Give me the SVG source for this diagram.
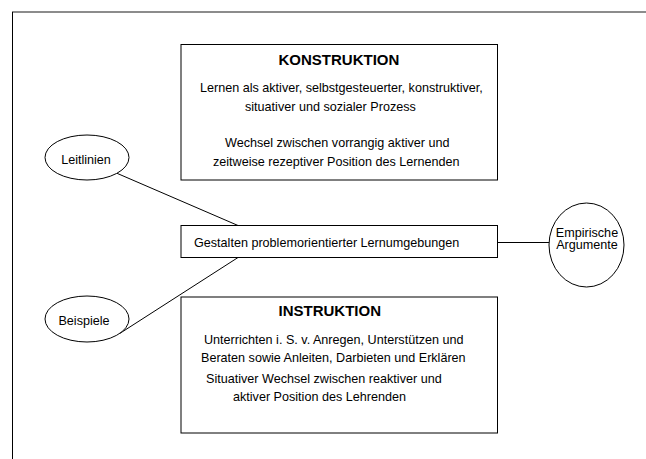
<svg xmlns="http://www.w3.org/2000/svg" width="646" height="459" viewBox="0 0 646 459">
  <style>
    .box { fill: #ffffff; stroke: #000000; stroke-width: 1; }
    .oval { fill: #ffffff; stroke: #000000; stroke-width: 1; }
    .link { stroke: #000000; stroke-width: 1; fill: none; }
    text { font-family: "Liberation Sans", Arial, sans-serif; font-size: 12.6px; fill: #000000; }
    .title { font-weight: bold; font-size: 15px; }
    .mid { text-anchor: middle; }
  </style>
  <rect width="646" height="459" fill="#ffffff"/>
  <!-- page frame -->
  <line x1="12" y1="12" x2="646" y2="12" stroke="#666666" stroke-width="1.5"/>
  <line x1="12.5" y1="12" x2="12.5" y2="459" stroke="#000000" stroke-width="1"/>

  <g id="connectors">
    <line class="link" x1="117" y1="173.3" x2="238" y2="225.5"/>
    <line class="link" x1="238" y1="257.5" x2="120" y2="333.3"/>
    <line class="link" x1="497.5" y1="242.5" x2="549" y2="242.5"/>
  </g>

  <g id="konstruktion">
    <rect class="box" x="181" y="44.5" width="316.5" height="135.5"/>
    <text class="title" x="278.5" y="64.5">KONSTRUKTION</text>
    <text x="200" y="91.5">Lernen als aktiver, selbstgesteuerter, konstruktiver,</text>
    <text x="245" y="110.5">situativer und sozialer Prozess</text>
    <text x="225" y="146.5">Wechsel zwischen vorrangig aktiver und</text>
    <text x="213" y="165.5">zeitweise rezeptiver Position des Lernenden</text>
  </g>

  <g id="leitlinien">
    <ellipse class="oval" cx="87" cy="157.5" rx="42" ry="22.5"/>
    <text class="mid" x="86" y="163.5">Leitlinien</text>
  </g>

  <g id="gestalten">
    <rect class="box" x="181" y="225.5" width="316.5" height="32"/>
    <text x="194" y="246.5">Gestalten problemorientierter Lernumgebungen</text>
  </g>

  <g id="empirische">
    <ellipse class="oval" cx="586.5" cy="245" rx="37.5" ry="42"/>
    <text class="mid" x="587" y="236.5">Empirische</text>
    <text class="mid" x="587" y="249">Argumente</text>
  </g>

  <g id="beispiele">
    <ellipse class="oval" cx="87" cy="319" rx="42" ry="23"/>
    <text class="mid" x="84" y="324.5">Beispiele</text>
  </g>

  <g id="instruktion">
    <rect class="box" x="181" y="297" width="316.5" height="136"/>
    <text class="title" x="278.5" y="315.5">INSTRUKTION</text>
    <text x="204" y="344">Unterrichten i. S. v. Anregen, Unterstützen und</text>
    <text x="201" y="361.5">Beraten sowie Anleiten, Darbieten und Erklären</text>
    <text x="206" y="383">Situativer Wechsel zwischen reaktiver und</text>
    <text x="233" y="400.5">aktiver Position des Lehrenden</text>
  </g>
</svg>
